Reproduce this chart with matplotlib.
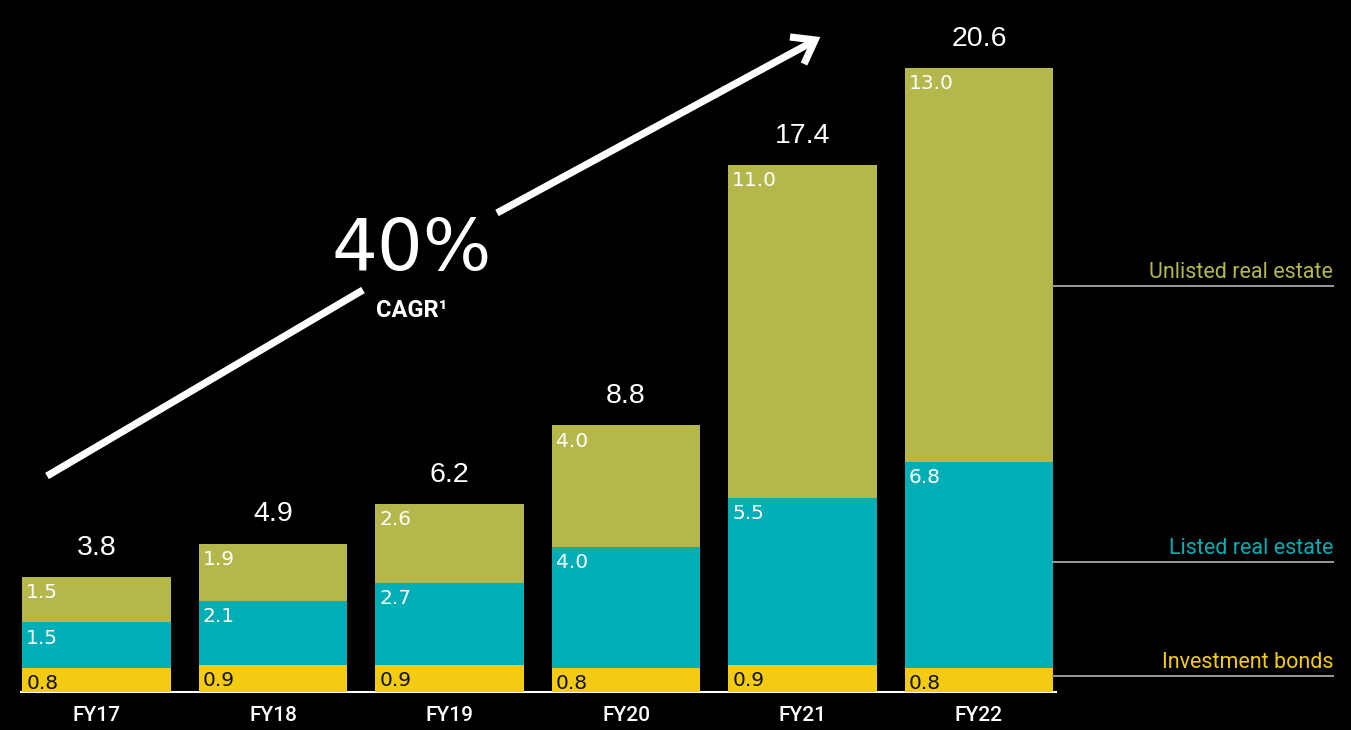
import matplotlib
matplotlib.use("Agg")
import matplotlib.pyplot as plt
from matplotlib.lines import Line2D

# ---- data ----
categories = ["FY17", "FY18", "FY19", "FY20", "FY21", "FY22"]
investment_bonds = [0.8, 0.9, 0.9, 0.8, 0.9, 0.8]
listed_real_estate = [1.5, 2.1, 2.7, 4.0, 5.5, 6.8]
unlisted_real_estate = [1.5, 1.9, 2.6, 4.0, 11.0, 13.0]
totals = [3.8, 4.9, 6.2, 8.8, 17.4, 20.6]
series_names = ["Investment bonds", "Listed real estate", "Unlisted real estate"]
cagr_text = "40%"

# ---- style ----
W, H = 1351, 730
C_YEL = "#F3CB12"
C_TEAL = "#00AEB5"
C_OLIVE = "#B4B84C"
BG = "black"

fig = plt.figure(figsize=(W / 100, H / 100), dpi=100, facecolor=BG)

def fx(x):
    return x / W

def fy(y):
    return 1 - y / H

# axes spans x 20..1333 px, y 0..692 px
ax = fig.add_axes([fx(20), fy(692), (1333 - 20) / W, 692 / H])
ax.set_facecolor(BG)
xmin = -76.5 / 176.5
xmax = xmin + 1313 / 176.5
ax.set_xlim(xmin, xmax)
ax.set_ylim(0, 22.85)
for s in ax.spines.values():
    s.set_visible(False)
ax.set_yticks([])

x = list(range(len(categories)))
bw = 0.844
series = [investment_bonds, listed_real_estate, unlisted_real_estate]
colors = [C_YEL, C_TEAL, C_OLIVE]
txtcol = ["#111111", "white", "white"]

# baseline
ax.plot([xmin, x[-1] + bw / 2 + 0.02], [0, 0], color="white", lw=1.5,
        zorder=1, clip_on=False, solid_capstyle="butt")

bottoms = [0.0] * len(categories)
for vals, col, tc in zip(series, colors, txtcol):
    ax.bar(x, vals, width=bw, bottom=bottoms, color=col, zorder=2, linewidth=0)
    for i, v in enumerate(vals):
        ax.annotate(f"{v:.1f}", xy=(i - bw / 2, bottoms[i] + v),
                    xytext=(3, -4.5), textcoords="offset points",
                    ha="left", va="top", color=tc, fontsize=14.5,
                    family="DejaVu Sans", zorder=3)
    bottoms = [b + v for b, v in zip(bottoms, vals)]

for i, t in enumerate(totals):
    ax.annotate(f"{t:.1f}", xy=(i, bottoms[i]), xytext=(0, 16),
                textcoords="offset points", ha="center", va="baseline",
                color="white", fontsize=20.5, family="Liberation Sans")

ax.set_xticks(x)
ax.set_xticklabels(categories, color="white", fontsize=15,
                   family="Roboto", fontweight="medium")
ax.tick_params(axis="x", length=0, pad=10)

# legend labels on right
leg_y = [676, 562, 286]
for name, col, ly in zip(series_names, colors, leg_y):
    fig.add_artist(Line2D([fx(1053), fx(1333)], [fy(ly), fy(ly)],
                          color="#9a9a9a", lw=1.4))
    fig.text(fx(1333), fy(ly - 8), name, ha="right", va="baseline",
             color=col, fontsize=15.5, family="Roboto")

# CAGR arrow
lw = 5.2
fig.add_artist(Line2D([fx(47), fx(363)], [fy(476), fy(290)], color="white",
                      lw=lw, solid_capstyle="butt"))
fig.add_artist(Line2D([fx(497), fx(814)], [fy(213), fy(41)], color="white",
                      lw=lw, solid_capstyle="butt"))
fig.add_artist(Line2D([fx(790), fx(815), fx(804)], [fy(37), fy(40), fy(64)],
                      color="white", lw=lw, solid_capstyle="butt",
                      solid_joinstyle="miter"))

fig.text(fx(412), fy(270), cagr_text, ha="center", va="baseline",
         color="white", fontsize=52, family="DejaVu Sans")
fig.text(fx(412), fy(317), "CAGR¹", ha="center", va="baseline",
         color="white", fontsize=17, family="Roboto", fontweight="bold")

fig.savefig("out.png", dpi=100, facecolor=BG)
